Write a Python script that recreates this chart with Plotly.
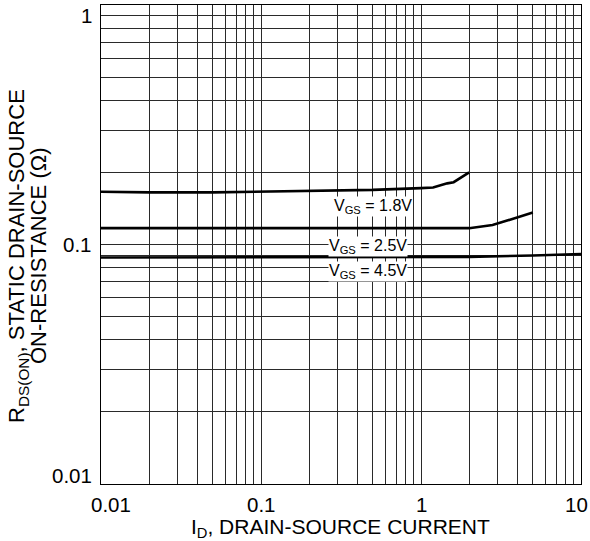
import math
import plotly.graph_objects as go

# ---- data ----
id_18 = [0.01, 0.02, 0.05, 0.1, 0.2, 0.5, 1.0, 1.19, 1.46, 1.6, 2.0]
rds_18 = [0.166, 0.165, 0.165, 0.166, 0.167, 0.169, 0.172, 0.173, 0.180, 0.182, 0.200]

id_25 = [0.01, 0.1, 1.0, 2.0, 2.8, 3.8, 5.0]
rds_25 = [0.117, 0.117, 0.117, 0.117, 0.1205, 0.128, 0.136]

id_45 = [0.01, 0.1, 1.0, 2.0, 5.0, 10.0]
rds_45 = [0.0882, 0.0883, 0.0885, 0.0888, 0.0900, 0.0913]

curve_labels = ["V<sub>GS</sub> = 1.8V", "V<sub>GS</sub> = 2.5V", "V<sub>GS</sub> = 4.5V"]
label_x = [0.50, 0.465, 0.468]
label_y = [0.1445, 0.0985, 0.0775]

x_tick_vals = [0.01, 0.1, 1, 10]
x_tick_text = ["0.01", "0.1", "1", "10"]
x_tick_shift = [10, 0, 0, -5]
y_tick_vals = [0.01, 0.1, 1]
y_tick_text = ["0.01", "0.1", "1"]
y_tick_shift = [9, 0, -10]

x_title = "I<sub>D</sub>, DRAIN-SOURCE CURRENT"
y_title_1 = "R<sub>DS(ON)</sub>, STATIC DRAIN-SOURCE"
y_title_2 = "ON-RESISTANCE (Ω)"

FONT = "Liberation Sans, Arial, sans-serif"

x_grid = [m * 10 ** e for e in range(-2, 1) for m in range(1, 10)] + [10]
y_grid = [m * 10 ** e for e in range(-2, 0) for m in range(1, 10)] + [1]

fig = go.Figure()
for xs, ys in [(id_18, rds_18), (id_25, rds_25), (id_45, rds_45)]:
    fig.add_trace(go.Scatter(x=xs, y=ys, mode="lines",
                             line=dict(color="black", width=2.6),
                             showlegend=False, hoverinfo="skip"))

ann = []
for t, lx, ly in zip(curve_labels, label_x, label_y):
    ann.append(dict(x=math.log10(lx), y=math.log10(ly),
                    xref="x", yref="y", text=t, showarrow=False,
                    font=dict(family=FONT, size=16, color="black"),
                    bgcolor="white", borderpad=0, xanchor="center", yanchor="middle"))

for v, t, s in zip(x_tick_vals, x_tick_text, x_tick_shift):
    ann.append(dict(x=math.log10(v), y=0, xref="x", yref="paper", text=t,
                    showarrow=False, xanchor="center", yanchor="top",
                    xshift=s, yshift=-7,
                    font=dict(family=FONT, size=20.5, color="black")))
for v, t, s in zip(y_tick_vals, y_tick_text, y_tick_shift):
    ann.append(dict(x=0, y=math.log10(v), xref="paper", yref="y", text=t,
                    showarrow=False, xanchor="right", yanchor="middle",
                    xshift=-7, yshift=s,
                    font=dict(family=FONT, size=20.5, color="black")))

ann.append(dict(x=0.5, y=0, xref="paper", yref="paper", text=x_title,
                showarrow=False, xanchor="center", yanchor="top", yshift=-29,
                xshift=-1, font=dict(family=FONT, size=21, color="black")))
ann.append(dict(x=0, y=0.476, xref="paper", yref="paper", text=y_title_1,
                showarrow=False, xanchor="center", yanchor="middle", xshift=-83,
                textangle=-90, font=dict(family=FONT, size=22, color="black")))
ann.append(dict(x=0, y=0.476, xref="paper", yref="paper", text=y_title_2,
                showarrow=False, xanchor="center", yanchor="middle", xshift=-62,
                textangle=-90, font=dict(family=FONT, size=22, color="black")))

fig.update_layout(
    width=590, height=541,
    margin=dict(l=101, r=9, t=5, b=57),
    paper_bgcolor="white", plot_bgcolor="white",
    font=dict(family=FONT, color="black"),
    annotations=ann,
    xaxis=dict(type="log", range=[-2, 1], tickvals=x_grid, showticklabels=False,
               ticks="", showgrid=True, gridcolor="#2a2a2a", gridwidth=1,
               showline=True, linecolor="black", linewidth=1, mirror=True,
               zeroline=False),
    yaxis=dict(type="log", range=[-2, 0], tickvals=y_grid, showticklabels=False,
               ticks="", showgrid=True, gridcolor="#2a2a2a", gridwidth=1,
               showline=True, linecolor="black", linewidth=1, mirror=True,
               zeroline=False),
)

fig.write_html("out.html", config={"displayModeBar": False},
               post_script="document.body.style.margin='0';document.body.style.overflow='hidden';")
